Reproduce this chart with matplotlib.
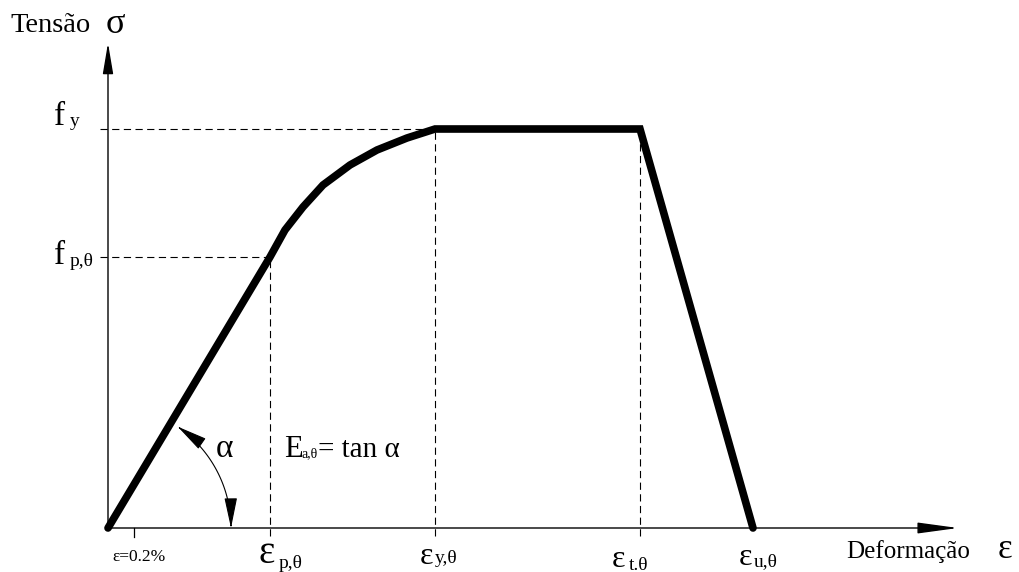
import matplotlib
matplotlib.use('Agg')
import matplotlib.pyplot as plt
import numpy as np
from matplotlib.patches import FancyArrowPatch
from matplotlib.path import Path

plt.rcParams['font.family'] = ['Liberation Serif', 'DejaVu Serif']

# ---- data (sketch units) ----
strain = [0.0, 1.62, 1.77, 1.95, 2.15, 2.42, 2.69, 2.99, 3.27, 5.32, 6.45]
stress = [0.0, 2.71, 2.98, 3.21, 3.43, 3.63, 3.78, 3.90, 3.99, 3.99, 0.0]
eps_p, eps_y, eps_t, eps_u = 1.62, 3.27, 5.32, 6.45
f_p, f_y = 2.71, 3.99
eps_02 = 0.26

fig = plt.figure(figsize=(10.19, 5.72), dpi=100)
ax = fig.add_axes([0, 0, 1, 1])
ax.set_xlim(-1.08, 9.11)
ax.set_ylim(-0.44, 5.28)
ax.axis('off')


def P(px, py):
    return ((px - 108) / 100.0, (528 - py) / 100.0)


# axes with arrows
ax.annotate('', xy=P(108, 43), xytext=P(108, 528),
            arrowprops=dict(arrowstyle='-|>,head_length=0.95,head_width=0.16',
                            lw=1.0, color='black', shrinkA=0, shrinkB=0,
                            mutation_scale=20))
ax.annotate('', xy=P(958, 528), xytext=P(108, 528),
            arrowprops=dict(arrowstyle='-|>,head_length=1.25,head_width=0.17',
                            lw=1.0, color='black', shrinkA=0, shrinkB=0,
                            mutation_scale=20))

# dashed guides
dash = dict(color='black', lw=0.8, linestyle=(0, (6.5, 4.0)))
x0 = P(100, 0)[0]
ybot = P(0, 536)[1]
ax.plot([x0, eps_y], [f_y, f_y], **dash)
ax.plot([x0, eps_p], [f_p, f_p], **dash)
ax.plot([eps_p, eps_p], [ybot, f_p], **dash)
ax.plot([eps_y, eps_y], [ybot, f_y], **dash)
ax.plot([eps_t, eps_t], [ybot, f_y], **dash)
# 0.2% tick
ax.plot([eps_02, eps_02], [0, P(0, 537)[1]], color='black', lw=0.9)

# stress-strain curve
ax.plot(strain, stress, color='black', lw=5.5, solid_capstyle='round',
        solid_joinstyle='miter', zorder=5)

# alpha arc with arrows
r = 1.23
ang = np.linspace(np.radians(55.5), 0.0, 60)
verts = np.column_stack([r * np.cos(ang), r * np.sin(ang)])
arc = FancyArrowPatch(path=Path(verts),
                      arrowstyle='<|-|>,head_length=0.95,head_width=0.2',
                      mutation_scale=20, lw=0.8, color='black',
                      shrinkA=0, shrinkB=0)
ax.add_patch(arc)


def T(px, py, s, size, ha='left', va='baseline'):
    ax.text(*P(px, py), s, fontsize=size, ha=ha, va=va, color='black')


# labels
T(10, 32, 'Tensão', 20.5)
T(106, 33, 'σ', 26)
T(54, 125, 'f', 24)
T(70, 126, 'y', 14)
T(54, 264, 'f', 24)
T(70, 266, 'p,θ', 14)
T(112, 561, 'ε=0.2%', 12.5)
T(258, 563, 'ε', 28)
T(279, 568, 'p,θ', 14)
T(420, 564, 'ε', 23)
T(435, 563, 'y,θ', 14)
T(612, 567, 'ε', 23)
T(629, 570, 't.θ', 14)
T(739, 565, 'ε', 23)
T(754, 566, 'u,θ', 14)
T(846, 558, 'Deformação', 18)
T(998, 558, 'ε', 25)
T(216, 457, 'α', 24)
T(284, 457, 'E', 22)
T(301, 457, 'a,θ', 10)
T(318, 457, '= tan α', 21)

fig.savefig('out.png', dpi=100)
